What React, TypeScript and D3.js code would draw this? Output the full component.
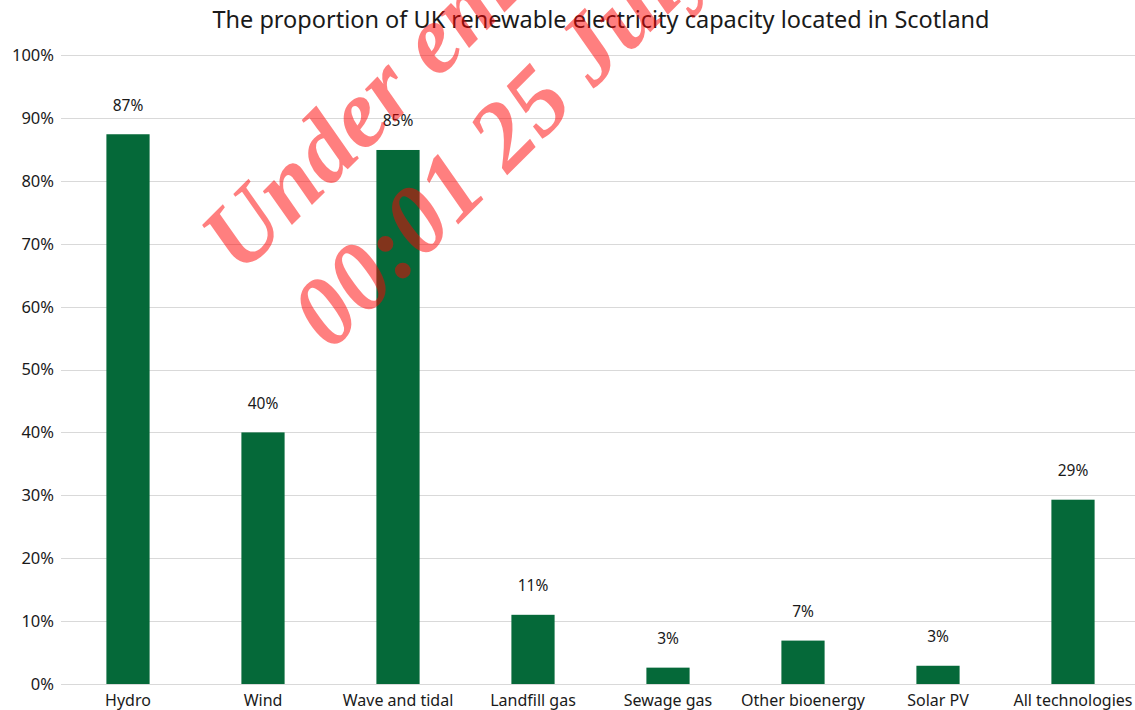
import React from "react";
import * as d3 from "d3";

const categories = ["Hydro", "Wind", "Wave and tidal", "Landfill gas", "Sewage gas", "Other bioenergy", "Solar PV", "All technologies"];
const values = [0.874, 0.400, 0.849, 0.110, 0.026, 0.069, 0.029, 0.293];
const valueLabels = ["87%", "40%", "85%", "11%", "3%", "7%", "3%", "29%"];
const yTicks = [0, 0.1, 0.2, 0.3, 0.4, 0.5, 0.6, 0.7, 0.8, 0.9, 1.0];
const title = "The proportion of UK renewable electricity capacity located in Scotland";
const watermark = ["Under embargo until", "00:01 25 July 2019"];

const W = 1135;
const H = 710;
const FONT = "'Noto Sans', 'Open Sans', sans-serif";

export default function App() {
  const x = d3.scaleBand<string>().domain(categories).range([60.5, 1140.5]).paddingInner(0.68).paddingOuter(0.34);
  const y = d3.scaleLinear().domain([0, 1]).range([684, 55]);
  const fmt = d3.format(".0%");
  return (
    <svg width={W} height={H} style={{ position: "absolute", left: 0, top: 0, background: "#fff" }} fontFamily={FONT}>
      <rect x={0} y={0} width={W} height={H} fill="#fff" />
      <text x={601} y={28} textAnchor="middle" fontSize={23.5} fill="#1a1a1a">{title}</text>
      {yTicks.map((t) => (
        <g key={t}>
          <line x1={61} x2={W} y1={Math.round(y(t)) + 0.5} y2={Math.round(y(t)) + 0.5} stroke="#d9d9d9" strokeWidth={1} />
          <text x={54} y={y(t)} dy="0.36em" textAnchor="end" fontSize={16.5} fill="#1a1a1a">{fmt(t)}</text>
        </g>
      ))}
      {categories.map((c, i) => (
        <g key={c}>
          <rect x={x(c)} y={y(values[i])} width={x.bandwidth()} height={y(0) - y(values[i])} fill="#056939" />
          <text x={(x(c) as number) + x.bandwidth() / 2} y={y(values[i]) - 23.5} textAnchor="middle" fontSize={15.5} fill="#1a1a1a">{valueLabels[i]}</text>
          <text x={(x(c) as number) + x.bandwidth() / 2} y={706} textAnchor="middle" fontSize={16} fill="#1a1a1a">{c}</text>
        </g>
      ))}
      <g transform="translate(241,276) rotate(-45)" fill="#ff0000" fillOpacity={0.5} fontFamily="'Liberation Serif', 'Times New Roman', serif" fontStyle="italic" fontWeight="bold" fontSize={97}>
        <text x={0} y={0}>{watermark[0]}</text>
        <text x={10} y={117}>{watermark[1]}</text>
      </g>
    </svg>
  );
}
